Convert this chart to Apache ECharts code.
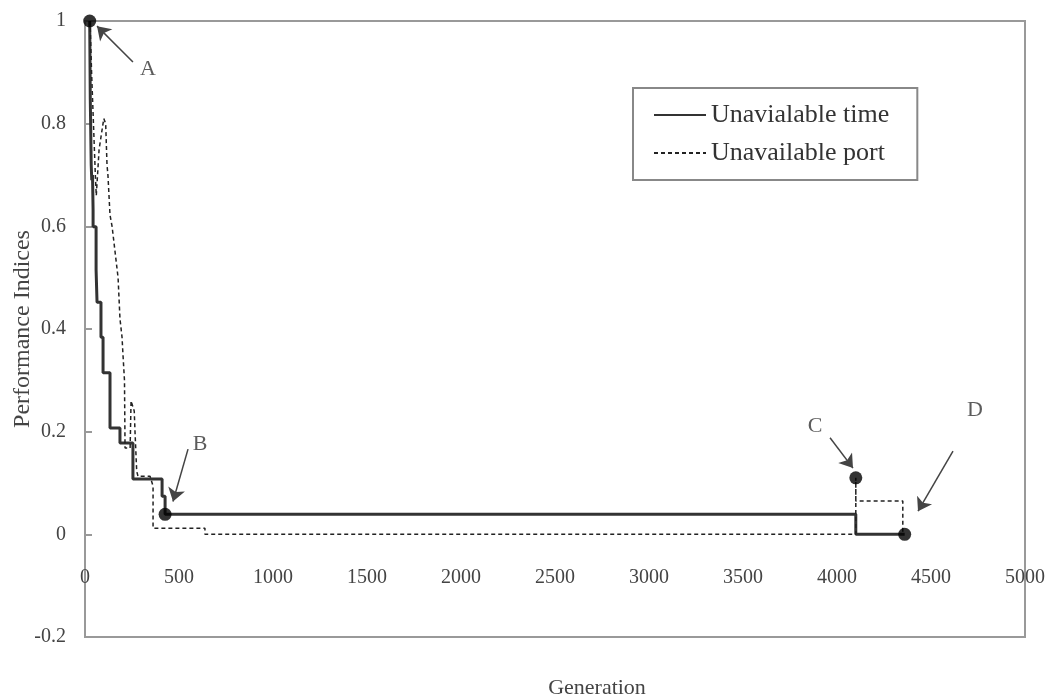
<!DOCTYPE html>
<html>
<head>
<meta charset="utf-8">
<script src="https://cdn.jsdelivr.net/npm/echarts@6/dist/echarts.min.js"></script>
<style>
  html, body {margin: 0; padding: 0; background: #fff;}
  #chart {width: 1050px; height: 697px;}
</style>
</head>
<body>
<div id="chart"></div>
<script>
  // generation / value pairs
  const timeGen = [25, 28, 30, 33, 36, 40, 43, 43, 59, 59, 64, 64, 85, 85, 96, 96, 133, 133, 186, 186, 255, 255, 410, 410, 426, 426, 4100, 4100, 4360];
  const timeVal = [1.0, 0.85, 0.8, 0.72, 0.69, 0.7, 0.632, 0.599, 0.599, 0.515, 0.515, 0.452, 0.452, 0.384, 0.384, 0.315, 0.315, 0.207, 0.207, 0.178, 0.178, 0.108, 0.108, 0.074, 0.074, 0.039, 0.039, 0, 0];

  const portGen = [27, 35, 45, 55, 60, 70, 75, 100, 110, 117, 122, 133, 144, 160, 176, 186, 197, 202, 210, 213, 240, 245, 262, 266, 275, 282, 346, 362, 362, 638, 638, 4100, 4100, 4100, 4350, 4350];
  const portVal = [1.0, 0.9, 0.8, 0.7, 0.66, 0.66, 0.75, 0.81, 0.8, 0.72, 0.7, 0.622, 0.6, 0.55, 0.5, 0.42, 0.384, 0.35, 0.3, 0.168, 0.168, 0.26, 0.24, 0.2, 0.123, 0.113, 0.113, 0.094, 0.012, 0.012, 0, 0, 0.11, 0.065, 0.065, 0];

  const markNames = ['A', 'B', 'C', 'D'];
  const markGen = [25, 426, 4100, 4360];
  const markVal = [1.0, 0.039, 0.11, 0];
  const letterGen = [335, 612, 3883, 4734];
  const letterVal = [0.906, 0.176, 0.211, 0.241];
  const arrowFrom = [[255, 0.92], [548, 0.166], [3963, 0.188], [4617, 0.162]];
  const arrowTo = [[64, 0.99], [468, 0.064], [4085, 0.129], [4431, 0.045]];

  const xTicks = [0, 500, 1000, 1500, 2000, 2500, 3000, 3500, 4000, 4500, 5000];
  const yTicks = [-0.2, 0, 0.2, 0.4, 0.6, 0.8, 1];

  const font = 'Liberation Serif';
  const pairs = (xs, ys) => xs.map((x, i) => [x, ys[i]]);

  const myChart = echarts.init(document.getElementById('chart'));
  myChart.setOption({
    animation: false,
    backgroundColor: '#fff',
    grid: {
      left: 85, right: 25, top: 21, bottom: 60,
      containLabel: false,
      outerBoundsMode: 'none',
      show: true, borderColor: '#999', borderWidth: 2
    },
    legend: {
      data: ['Unavialable time', 'Unavailable port'],
      orient: 'vertical',
      left: 633, top: 88,
      padding: [14, 28, 14, 20],
      itemGap: 12,
      itemWidth: 52,
      itemHeight: 10,
      itemStyle: {opacity: 0},
      borderColor: '#888',
      borderWidth: 2,
      textStyle: {fontFamily: font, fontSize: 26, color: '#333'}
    },
    xAxis: {
      type: 'value',
      min: xTicks[0], max: xTicks[xTicks.length - 1], interval: 500,
      axisLine: {onZero: false, show: false},
      axisTick: {show: false},
      splitLine: {show: false},
      // labels sit between the zero line and the frame, as in the picture
      axisLabel: {margin: -69, fontFamily: font, fontSize: 20, color: '#444', formatter: v => String(v)},
      name: 'Generation',
      nameLocation: 'middle',
      nameGap: 40,
      nameMoveOverlap: false,
      nameTextStyle: {fontFamily: font, fontSize: 22, color: '#444', padding: [0, 0, 0, 84]}
    },
    yAxis: {
      type: 'value',
      min: yTicks[0], max: yTicks[yTicks.length - 1], interval: 0.2,
      axisLine: {show: true, lineStyle: {color: '#999', width: 2}},
      axisTick: {show: true, inside: true, length: 7, lineStyle: {color: '#999', width: 2}},
      splitLine: {show: false},
      axisLabel: {
        margin: 19, fontFamily: font, fontSize: 20, color: '#444',
        formatter: v => String(Math.round(v * 10) / 10)
      },
      name: 'Performance Indices',
      nameLocation: 'middle',
      nameGap: 50,
      nameMoveOverlap: false,
      nameTextStyle: {fontFamily: font, fontSize: 24, color: '#444'}
    },
    series: [
      {
        name: 'Unavialable time',
        type: 'line',
        data: pairs(timeGen, timeVal),
        showSymbol: false,
        symbol: 'none',
        color: '#222',
        lineStyle: {color: '#333', width: 3}
      },
      {
        name: 'Unavailable port',
        type: 'line',
        data: pairs(portGen, portVal),
        showSymbol: false,
        symbol: 'none',
        color: '#222',
        lineStyle: {color: '#222', width: 1.5, type: [4, 3]}
      },
      {
        name: 'marks',
        type: 'scatter',
        data: pairs(markGen, markVal),
        symbolSize: 13,
        itemStyle: {color: '#000'},
        z: 5
      },
      {
        name: 'letters',
        type: 'scatter',
        data: letterGen.map((x, i) => ({name: markNames[i], value: [x, letterVal[i]]})),
        symbolSize: 0,
        label: {
          show: true, position: 'inside', formatter: '{b}',
          fontFamily: font, fontSize: 22, color: '#333'
        }
      },
      {
        name: 'arrows',
        type: 'lines',
        coordinateSystem: 'cartesian2d',
        data: arrowFrom.map((p, i) => ({coords: [p, arrowTo[i]]})),
        symbol: ['none', 'arrow'],
        symbolSize: 13,
        lineStyle: {color: '#444', width: 1.5, opacity: 1}
      }
    ]
  });
</script>
</body>
</html>
